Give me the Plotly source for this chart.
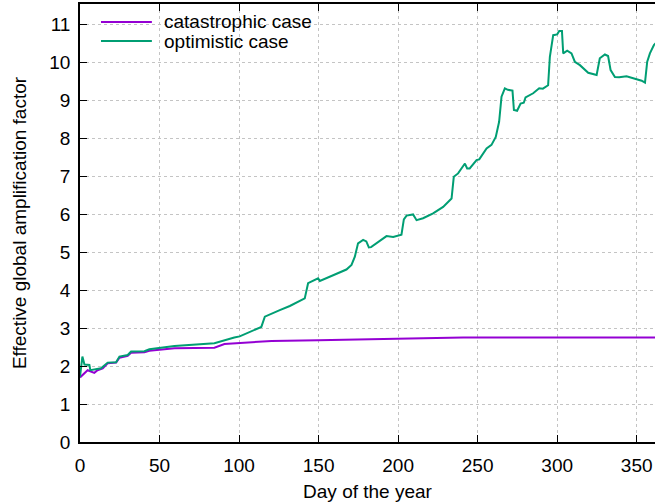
import plotly.graph_objects as go

# Catastrophic case (purple)
cat_day = [0, 4.8, 9, 11, 14.3, 17.4, 22.7, 24.8, 30, 32.1, 40.5, 43.6, 59.4,
           84.5, 90.8, 94, 106.7, 120.4, 149.7, 167.5, 199, 240.9, 261.9, 362]
cat_val = [1.70, 1.89, 1.82, 1.89, 1.94, 2.07, 2.09, 2.22, 2.27, 2.35, 2.36, 2.40, 2.47,
           2.48, 2.58, 2.59, 2.62, 2.66, 2.68, 2.70, 2.72, 2.75, 2.75, 2.75]

# Optimistic case (green)
opt_day = [0, 1.5, 2.8, 5.9, 6.5, 8.6, 13.2, 17.4, 22.7, 24.8, 30, 32.1, 40.5, 43.6,
           59.4, 84.5, 90.8, 97, 100.4, 104.6, 111, 114, 116.2, 119.3, 125.6, 131.9,
           137.1, 141.3, 143.4, 146.5, 149.7, 150.8, 159, 167.5, 170.7, 172.8, 174.8,
           178, 180, 181.6, 183, 186.4, 192.7, 196.9, 202.1, 203.6, 205.3, 209.4,
           211.6, 215.7, 222, 228.3, 233.6, 235, 237.7, 242, 243.4, 245, 249.3, 251,
           255.6, 258.7, 261.4, 263.5, 265, 267.1, 269, 271.9, 272.8, 274.8, 277, 279,
           280.1, 284.9, 287, 288.7, 291, 294.3, 295.4, 297.5, 300, 301.3, 303, 303.8,
           306.3, 309, 311.1, 314.3, 319.5, 324.8, 326.8, 330, 332, 333.6, 336.3, 339,
           343.6, 348.9, 353.1, 355.2, 356.6, 358.3, 360.8, 362]
opt_val = [1.72, 2.25, 2.04, 2.03, 1.89, 1.90, 1.94, 2.09, 2.10, 2.25, 2.29, 2.38, 2.39, 2.44,
           2.53, 2.60, 2.68, 2.75, 2.78, 2.86, 2.99, 3.03, 3.30, 3.36, 3.47, 3.58,
           3.69, 3.78, 4.18, 4.24, 4.31, 4.24, 4.39, 4.54, 4.66, 4.88, 5.23,
           5.32, 5.28, 5.12, 5.13, 5.24, 5.42, 5.40, 5.46, 5.86, 5.96, 5.99,
           5.84, 5.89, 6.02, 6.19, 6.41, 6.98, 7.07, 7.33, 7.20, 7.20, 7.42, 7.44,
           7.73, 7.82, 8.03, 8.43, 9.09, 9.31, 9.27, 9.25, 8.74, 8.72, 8.91, 8.93,
           9.07, 9.18, 9.25, 9.31, 9.30, 9.39, 10.14, 10.71, 10.73, 10.82, 10.82, 10.23,
           10.30, 10.23, 10.01, 9.92, 9.72, 9.66, 10.10, 10.20, 10.16, 9.79, 9.61, 9.60,
           9.63, 9.57, 9.51, 9.46, 10.01, 10.23, 10.45, 10.50]

series_names = ["catastrophic case", "optimistic case"]
series_colors = ["#9400d3", "#009e73"]

x_ticks = [0, 50, 100, 150, 200, 250, 300, 350]
y_ticks = list(range(0, 12))

FONT = "Liberation Sans, Arial, sans-serif"
FS = 19

fig = go.Figure()
fig.add_trace(go.Scatter(x=cat_day, y=cat_val, mode="lines", name=series_names[0],
                         line=dict(color=series_colors[0], width=2)))
fig.add_trace(go.Scatter(x=opt_day, y=opt_val, mode="lines", name=series_names[1],
                         line=dict(color=series_colors[1], width=2)))

# Legend drawn manually (gnuplot style: sample line, then text)
leg_y = [0.959, 0.9155]
for name, color, yy in zip(series_names, series_colors, leg_y):
    fig.add_shape(type="line", xref="paper", yref="paper",
                  x0=0.0365, x1=0.125, y0=yy, y1=yy,
                  line=dict(color=color, width=2))
    fig.add_annotation(xref="paper", yref="paper", x=0.1426, y=yy,
                       xanchor="left", yanchor="middle", showarrow=False,
                       text=name, font=dict(family=FONT, size=FS, color="black"))

axis_common = dict(
    showline=True, linecolor="black", linewidth=1.5,
    ticks="inside", ticklen=7, tickcolor="black", tickwidth=1,
    showgrid=True, gridcolor="#c4c4c4", griddash="dot", gridwidth=1,
    zeroline=False, tickfont=dict(family=FONT, size=FS, color="black"),
)

fig.update_layout(
    width=655, height=504,
    margin=dict(l=80, r=0, t=4, b=62),
    paper_bgcolor="white", plot_bgcolor="white",
    font=dict(family=FONT, size=FS, color="black"),
    showlegend=False,
    xaxis=dict(range=[0, 361.5], tickvals=x_ticks, mirror="ticks",
               ticklabelstandoff=5,
               title=dict(text="Day of the year", font=dict(family=FONT, size=FS), standoff=10),
               **axis_common),
    yaxis=dict(range=[0, 11.53], tickvals=y_ticks, mirror=False,
               ticklabelstandoff=4,
               title=dict(text="Effective global amplification factor",
                          font=dict(family=FONT, size=FS), standoff=18),
               **axis_common),
)

fig.write_html("out.html", config={"displayModeBar": False},
               post_script="document.body.style.margin='0';")
